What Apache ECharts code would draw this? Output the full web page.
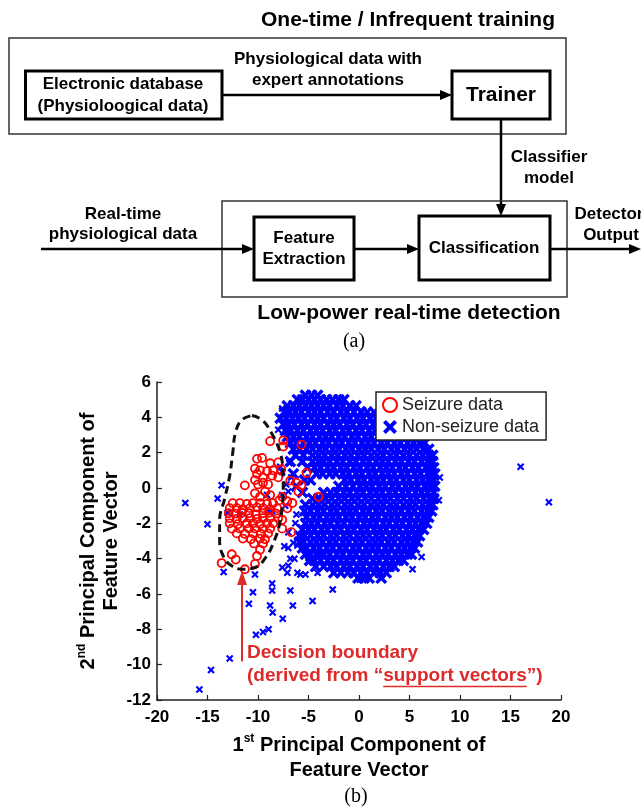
<!DOCTYPE html>
<html><head><meta charset="utf-8">
<script src="https://cdn.jsdelivr.net/npm/echarts@6/dist/echarts.min.js"></script>
<style>html,body{margin:0;padding:0;background:#fff}#c{width:641px;height:811px}</style>
</head><body><div id="c"></div>
<script>
// ---------- data ----------
const xTicks = [-20, -15, -10, -5, 0, 5, 10, 15, 20];
const yTicks = [-12, -10, -8, -6, -4, -2, 0, 2, 4, 6];
const seriesNames = ['Seizure data', 'Non-seizure data'];

const seizurePoints = [
  [-8.8,2.65],[-7.5,2.7],[-7.5,2.35],[-5.7,2.45],[-10.1,1.65],[-9.6,1.7],[-8.8,1.4],[-8.0,1.45],
  [-10.3,1.1],[-9.8,1.0],[-9.1,0.95],[-8.5,1.0],[-7.7,1.05],
  [-10.1,0.8],[-9.5,0.6],[-8.6,0.7],[-8.0,0.6],
  [-5.2,0.85],[-6.8,0.42],[-6.2,0.3],[-5.7,0.15],[-6.0,-0.2],[-4.0,-0.5],[-11.3,0.15],
  [-10.3,0.45],[-10.0,0.2],[-9.5,0.3],[-9.0,0.2],
  [-7.6,-0.5],[-7.9,-0.7],[-10.3,-0.3],[-9.8,-0.5],[-9.3,-0.2],[-8.8,-0.4],
  [-7.1,-0.75],[-6.6,-0.85],[-7.1,-1.15],
  [-12.5,-0.86],[-11.8,-0.86],[-11.1,-0.9],[-10.5,-0.86],[-9.8,-0.86],[-9.1,-0.9],[-8.5,-0.86],
  [-12.8,-1.14],[-12.1,-1.14],[-11.5,-1.2],[-10.8,-1.14],[-10.1,-1.1],[-9.5,-1.14],[-8.8,-1.2],[-8.1,-1.14],
  [-12.9,-1.43],[-12.2,-1.45],[-11.6,-1.4],[-10.9,-1.43],[-10.2,-1.5],[-9.5,-1.43],[-8.9,-1.4],[-8.2,-1.45],
  [-12.8,-1.71],[-12.1,-1.75],[-11.5,-1.71],[-10.8,-1.7],[-10.1,-1.75],[-9.5,-1.71],[-8.8,-1.7],[-8.0,-1.71],
  [-12.8,-2.0],[-12.0,-2.05],[-11.1,-2.0],[-10.5,-2.0],[-9.8,-2.05],[-9.1,-2.0],[-8.5,-2.0],
  [-12.6,-2.3],[-11.8,-2.29],[-10.9,-2.3],[-10.3,-2.29],[-9.5,-2.3],[-8.8,-2.29],
  [-12.1,-2.57],[-11.3,-2.6],[-10.5,-2.57],[-9.7,-2.6],[-9.0,-2.57],
  [-11.5,-2.86],[-10.7,-2.9],[-9.8,-2.86],[-9.3,-2.9],
  [-10.4,-3.14],[-9.5,-3.14],[-9.8,-3.5],[-12.6,-3.75],[-12.2,-4.05],[-10.1,-3.85],[-10.3,-4.3],[-13.6,-4.25],[-11.3,-4.6],
  [-7.6,-1.8],[-7.6,-2.3],[-6.7,-2.5]
];

// dense non-seizure cloud, read row by row: [y, [x values]]
const nonSeizureCloudRows = [
  [5.25,[-5.3,-4.7,-4.1]],
  [5.0, [-6.1,-5.6,-5.0,-4.4,-3.8,-3.2,-2.6,-2.0,-1.5]],
  [4.65,[-7.1,-6.5,-5.9,-5.3,-4.7,-4.1,-3.5,-2.9,-2.2,-1.6,-0.9,-0.3]],
  [4.3, [-7.4,-6.9,-6.3,-5.7,-5.0,-4.4,-3.8,-3.1,-2.5,-1.8,-1.2,-0.5,0.2,0.8,1.5]],
  [3.95,[-7.8,-7.2,-6.6,-6.0,-5.4,-4.7,-4.1,-3.5,-2.8,-2.2,-1.5,-0.9,-0.2,0.4,1.1,1.7,2.4]],
  [3.6, [-7.5,-7.0,-6.4,-5.7,-5.1,-4.4,-3.8,-3.1,-2.5,-1.9,-1.2,-0.6,0.1,0.7,1.4,2.0,2.7]],
  [3.25,[-7.3,-6.8,-6.1,-5.5,-4.8,-4.2,-3.6,-2.9,-2.3,-1.6,-1.0,-0.3,0.3,1.0,1.6,2.3,2.9,3.6,4.2,4.8]],
  [2.9, [-7.1,-6.5,-5.9,-5.2,-4.6,-3.9,-3.3,-2.7,-2.0,-1.4,-0.7,-0.1,0.6,1.2,1.9,2.5,3.1,3.8,4.4,5.1,5.6,6.0]],
  [2.55,[-6.8,-6.2,-5.5,-4.9,-4.3,-3.6,-3.0,-2.3,-1.7,-1.0,-0.4,0.3,0.9,1.5,2.2,2.8,3.5,4.1,4.8,5.4,6.0,6.5]],
  [2.2, [-6.5,-5.9,-5.2,-4.6,-3.9,-3.3,-2.6,-2.0,-1.3,-0.7,0.0,0.6,1.2,1.9,2.5,3.2,3.8,4.5,5.1,5.7,6.4,6.9]],
  [1.85,[-6.3,-5.5,-4.6,-4.0,-3.4,-2.7,-2.1,-1.4,-0.8,-0.1,0.5,1.2,1.8,2.4,3.1,3.7,4.4,5.0,5.7,6.3,6.9,7.3]],
  [1.5, [-6.8,-5.6,-4.6,-4.0,-3.5,-2.9,-2.2,-1.6,-0.9,-0.3,0.4,1.0,1.7,2.3,2.9,3.6,4.2,4.9,5.5,6.2,6.8,7.3]],
  [1.15,[-5.1,-4.4,-3.8,-3.1,-2.5,-1.8,-1.2,-0.5,0.1,0.8,1.4,2.1,2.7,3.3,4.0,4.6,5.3,5.9,6.6,7.1,7.4]],
  [0.8, [-6.5,-4.2,-3.6,-2.9,-2.3,-1.6,-1.0,-0.3,0.3,1.0,1.6,2.3,2.9,3.5,4.2,4.8,5.5,6.1,6.8,7.2,7.5]],
  [0.45,[-5.4,-4.8,-1.4,-0.8,-0.1,0.5,1.2,1.8,2.4,3.1,3.7,4.4,5.0,5.7,6.3,6.9,7.4]],
  [0.1, [-6.2,-2.0,-1.3,-0.6,0.1,0.7,1.3,2.0,2.6,3.3,3.9,4.6,5.2,5.8,6.5,7.0,7.5]],
  [-0.25,[-5.6,-3.5,-2.8,-2.2,-1.5,-0.9,-0.2,0.4,1.1,1.7,2.3,3.0,3.6,4.3,4.9,5.6,6.2,6.8,7.4]],
  [-0.6,[-4.6,-4.0,-3.3,-2.7,-2.0,-1.4,-0.7,-0.1,0.6,1.2,1.9,2.5,3.1,3.8,4.4,5.1,5.7,6.4,7.0,7.4]],
  [-0.95,[-5.3,-4.6,-4.0,-3.4,-2.7,-2.1,-1.4,-0.8,-0.1,0.5,1.2,1.8,2.4,3.1,3.7,4.4,5.0,5.6,6.3,6.9,7.3]],
  [-1.3,[-5.4,-4.8,-4.1,-3.5,-2.8,-2.2,-1.5,-0.9,-0.3,0.4,1.0,1.7,2.3,3.0,3.6,4.2,4.9,5.5,6.2,6.8,7.2]],
  [-1.65,[-5.2,-4.5,-3.9,-3.2,-2.6,-2.0,-1.3,-0.7,0.0,0.6,1.3,1.9,2.6,3.2,3.8,4.5,5.1,5.8,6.4,6.9]],
  [-2.0,[-5.3,-4.7,-4.1,-3.4,-2.8,-2.1,-1.5,-0.8,-0.2,0.5,1.1,1.7,2.4,3.0,3.7,4.3,5.0,5.6,6.2,6.7]],
  [-2.35,[-5.6,-5.0,-4.4,-3.7,-3.1,-2.4,-1.8,-1.1,-0.5,0.2,0.8,1.5,2.1,2.7,3.4,4.0,4.7,5.3,5.9,6.4]],
  [-2.7,[-5.9,-5.4,-4.8,-4.1,-3.5,-2.8,-2.2,-1.5,-0.9,-0.2,0.4,1.0,1.7,2.3,3.0,3.6,4.3,4.9,5.5,6.0]],
  [-3.05,[-5.9,-5.5,-4.8,-4.2,-3.6,-2.9,-2.3,-1.6,-1.0,-0.3,0.3,1.0,1.6,2.2,2.9,3.5,4.2,4.8,5.4,5.8]],
  [-3.4,[-5.6,-5.2,-4.5,-3.9,-3.2,-2.6,-1.9,-1.3,-0.6,0.0,0.7,1.3,1.9,2.6,3.2,3.9,4.5,5.1,5.5]],
  [-3.75,[-5.3,-4.8,-4.2,-3.5,-2.9,-2.2,-1.6,-0.9,-0.3,0.4,1.0,1.7,2.3,2.9,3.6,4.2,4.8,5.2]],
  [-4.1,[-4.9,-4.4,-3.8,-3.1,-2.5,-1.8,-1.2,-0.6,0.1,0.7,1.4,2.0,2.7,3.3,3.9,4.4]],
  [-4.45,[-4.3,-3.5,-2.8,-2.2,-1.5,-0.9,-0.2,0.4,1.1,1.7,2.4,3.0,3.5]],
  [-4.8,[-2.5,-1.8,-1.1,-0.5,0.2,0.8,1.5,2.1,2.7]],
  [-5.1,[-0.1,0.5,1.0,2.2]]
];

const nonSeizureOutliers = [
  [-17.2,-0.85],[-15.0,-2.05],[-13.6,0.15],[-14.0,-0.6],[-13.0,-1.4],[-13.4,-4.75],[-10.3,-4.9],
  [-11.8,-1.5],[-9.0,-1.3],[-9.1,-0.4],
  [-10.5,-5.9],[-10.9,-6.55],[-8.6,-5.4],[-8.6,-5.8],[-8.8,-6.65],[-8.55,-7.05],[-7.55,-7.4],
  [-6.8,-5.8],[-6.55,-6.65],[-4.6,-6.4],[-2.6,-5.75],[-10.2,-8.3],[-9.5,-8.15],[-8.95,-8.0],
  [-12.8,-9.65],[-14.65,-10.3],[-15.8,-11.4],
  [-7.4,-3.3],[-6.1,-3.25],[-7.6,-4.5],[-7.1,-4.8],[-6.1,-4.8],[-7.0,-4.4],[-5.3,-4.9],[-4.1,-4.8],
  [-5.0,-4.2],[-6.4,-4.0],[-3.9,-3.7],[-7.0,-3.4],[-6.5,-3.1],[-6.8,-4.0],[-5.8,-4.9],
  [16.0,1.2],[18.8,-0.8],[8.0,0.6],[7.9,-0.7],[0.1,-5.2],[2.25,-5.1],[6.2,-3.9],[5.3,-4.6],
  [-8.0,3.3],[-6.8,3.1],[-7.1,4.6],[-7.6,4.5],[-7.8,1.2],[-8.6,-1.3],
  [-7.6,0.9],[-7.2,0.2],[-7.6,-0.4],[-7.3,-1.0],[-6.2,-1.5],[-7.0,-2.5],[-6.3,-2.0],[-6.9,1.4],[-6.7,0.6],[-7.0,-0.2]
];

const boundaryPath = [
  [-10.6,4.1],[-9.6,3.85],[-8.7,3.15],[-7.8,2.0],[-7.55,1.1],[-7.5,0.1],[-7.6,-1.0],[-7.85,-2.0],
  [-8.4,-3.0],[-9.2,-3.9],[-10.3,-4.5],[-11.5,-4.6],[-12.6,-4.4],[-13.4,-3.9],[-13.8,-2.95],
  [-13.8,-1.85],[-13.3,-0.6],[-12.8,0.7],[-12.5,2.0],[-12.2,3.2],[-11.6,3.85],[-10.6,4.1]
];

const arrowStart = [-11.58, -9.8];
const arrowEnd = [-11.58, -5.1];

// ---------- build ----------
const F = '"Liberation Sans", Arial, Helvetica, sans-serif';
const SERIF = '"Liberation Serif", "Times New Roman", serif';
const blueData = [];
nonSeizureCloudRows.forEach(r => r[1].forEach(x => blueData.push([x, r[0]])));
const cloudCount = blueData.length;
nonSeizureOutliers.forEach(p => blueData.push(p));

const XMARK = 'path://M0,2L2,0L5,3L8,0L10,2L7,5L10,8L8,10L5,7L2,10L0,8L3,5Z';
const RED_TXT = '#dd2a2a';

function txt(x, y, s, size, weight, family) {
  return {
    type: 'text', x: x, y: y, z: 100, silent: true,
    style: { text: s, x: 0, y: 0, fill: '#000', align: 'center', verticalAlign: 'middle',
      fontSize: size, fontWeight: weight || 'bold', fontFamily: family || F }
  };
}
function rect(x, y, w, h, lw, color) {
  return { type: 'rect', z: 100, silent: true, shape: { x: x, y: y, width: w, height: h },
    style: { fill: 'none', stroke: color || '#000', lineWidth: lw } };
}
function line(x1, y1, x2, y2, lw, color) {
  return { type: 'line', z: 100, silent: true, shape: { x1: x1, y1: y1, x2: x2, y2: y2 },
    style: { stroke: color || '#000', lineWidth: lw } };
}
function tri(pts, color) {
  return { type: 'polygon', z: 100, silent: true, shape: { points: pts }, style: { fill: color || '#000' } };
}

const diagram = [
  txt(408, 20, 'One-time / Infrequent training', 21),
  rect(9, 38, 557, 96, 1.5, '#333'),
  rect(25.5, 71, 196.5, 48, 3),
  txt(123, 84, 'Electronic database', 17),
  txt(123, 106, '(Physioloogical data)', 17),
  txt(328, 59, 'Physiological data with', 17),
  txt(328, 80, 'expert annotations', 17),
  line(222, 95, 442, 95, 2.5),
  tri([[452, 95], [440, 90], [440, 100]]),
  rect(452, 71, 98, 48, 3),
  txt(501, 95, 'Trainer', 21),
  line(501, 119, 501, 206, 2.5),
  tri([[501, 216], [496, 204], [506, 204]]),
  txt(549, 157, 'Classifier', 17),
  txt(549, 178, 'model', 17),
  rect(222, 201, 345, 96, 1.5, '#333'),
  txt(123, 214, 'Real-time', 17),
  txt(123, 234, 'physiological data', 17),
  line(41, 249, 244, 249, 2.5),
  tri([[254, 249], [242, 244], [242, 254]]),
  rect(254, 217, 100, 63, 3),
  txt(304, 238, 'Feature', 17),
  txt(304, 259, 'Extraction', 17),
  line(354, 249, 409, 249, 2.5),
  tri([[419, 249], [407, 244], [407, 254]]),
  rect(419, 216, 131, 64, 3),
  txt(484, 248, 'Classification', 17),
  line(550, 249, 631, 249, 2.5),
  tri([[641, 249], [629, 244], [629, 254]]),
  txt(609, 214, 'Detector', 17),
  txt(611, 235, 'Output', 17),
  txt(409, 313, 'Low-power real-time detection', 21),
  txt(354, 342, '(a)', 20, 'normal', SERIF),
  txt(356, 797, '(b)', 20, 'normal', SERIF)
];

// axis titles with superscripts
const titleRich = {
  a: { fontSize: 20, fontWeight: 'bold', fontFamily: F, fill: '#000', lineHeight: 24 },
  s: { fontSize: 12, fontWeight: 'bold', fontFamily: F, fill: '#000', verticalAlign: 'top', lineHeight: 24 }
};
function richTxt(x, y, s, rot) {
  return { type: 'text', x: x, y: y, rotation: rot || 0, z: 100, silent: true,
    style: { text: s, x: 0, y: 0, align: 'center', verticalAlign: 'middle', rich: titleRich } };
}
diagram.push(richTxt(359, 745, '{a|1}{s|st}{a| Principal Component of}'));
diagram.push(richTxt(359, 770, '{a|Feature Vector}'));
diagram.push(richTxt(88, 541, '{a|2}{s|nd}{a| Principal Component of}', Math.PI / 2));
diagram.push(richTxt(111, 541, '{a|Feature Vector}', Math.PI / 2));

// decision boundary annotation
const annFont = 'bold 19px ' + F;
const line2a = '(derived from \u201C', line2b = 'support vectors', line2c = '\u201D)';
const mctx = document.createElement('canvas').getContext('2d');
mctx.font = annFont;
const wA = mctx.measureText(line2a).width, wB = mctx.measureText(line2b).width;
const annX = 247;
diagram.push({ type: 'text', x: annX, y: 653, z: 100, silent: true,
  style: { text: 'Decision boundary', x: 0, y: 0, fill: RED_TXT, align: 'left', verticalAlign: 'middle', fontSize: 19, fontWeight: 'bold', fontFamily: F } });
diagram.push({ type: 'text', x: annX, y: 676, z: 100, silent: true,
  style: { text: line2a + line2b + line2c, x: 0, y: 0, fill: RED_TXT, align: 'left', verticalAlign: 'middle', fontSize: 19, fontWeight: 'bold', fontFamily: F } });
diagram.push(line(annX + wA, 686.5, annX + wA + wB, 686.5, 1.5, RED_TXT));

const axisCommon = {
  type: 'value',
  axisLine: { show: true, onZero: false, lineStyle: { color: '#222', width: 1.5 } },
  axisTick: { show: true, inside: true, length: 5, lineStyle: { color: '#222', width: 1.2 } },
  splitLine: { show: false },
  axisLabel: { fontSize: 17, fontWeight: 'bold', fontFamily: F, color: '#000' }
};

const option = {
  animation: false,
  backgroundColor: '#fff',
  grid: { left: 157, right: 80, top: 382, bottom: 111, containLabel: false },
  xAxis: Object.assign({}, axisCommon, {
    min: xTicks[0], max: xTicks[xTicks.length - 1], interval: xTicks[1] - xTicks[0],
    axisLabel: Object.assign({}, axisCommon.axisLabel, { margin: 9 })
  }),
  yAxis: Object.assign({}, axisCommon, {
    min: yTicks[0], max: yTicks[yTicks.length - 1], interval: yTicks[1] - yTicks[0],
    axisLabel: Object.assign({}, axisCommon.axisLabel, { margin: 6 })
  }),
  legend: {
    data: [seriesNames[0], seriesNames[1]],
    orient: 'vertical', left: 376, top: 392,
    padding: [4, 7, 4, 6], itemGap: 4, itemWidth: 14, itemHeight: 14,
    backgroundColor: '#fff', borderColor: '#222', borderWidth: 1.5, borderRadius: 0,
    selectedMode: false, z: 10,
    textStyle: { fontSize: 18, fontFamily: F, color: '#222' }
  },
  series: [
    {
      name: seriesNames[1], type: 'scatter', data: blueData, symbol: XMARK,
      symbolSize: function (v, p) { return p.dataIndex < cloudCount ? 12 : 7.5; },
      itemStyle: { color: '#0000ff', opacity: 1 }, silent: true, z: 2
    },
    {
      name: seriesNames[0], type: 'scatter', data: seizurePoints, symbol: 'circle', symbolSize: 8,
      itemStyle: { color: 'rgba(0,0,0,0)', borderColor: '#ff0000', borderWidth: 1.8, opacity: 1 }, silent: true, z: 3
    },
    {
      name: 'boundary', type: 'line', data: boundaryPath, symbol: 'none', smooth: 0.45, silent: true, z: 4,
      lineStyle: { color: '#111', width: 3, type: [8, 5] },
      markLine: {
        silent: true, symbol: ['none', 'triangle'], symbolSize: [10, 14], animation: false,
        label: { show: false },
        lineStyle: { color: RED_TXT, width: 2, type: 'solid' },
        data: [[{ coord: arrowStart }, { coord: arrowEnd }]]
      }
    }
  ],
  graphic: diagram
};

const chart = echarts.init(document.getElementById('c'), null, { renderer: 'canvas' });
chart.setOption(option);
</script>
</body></html>
